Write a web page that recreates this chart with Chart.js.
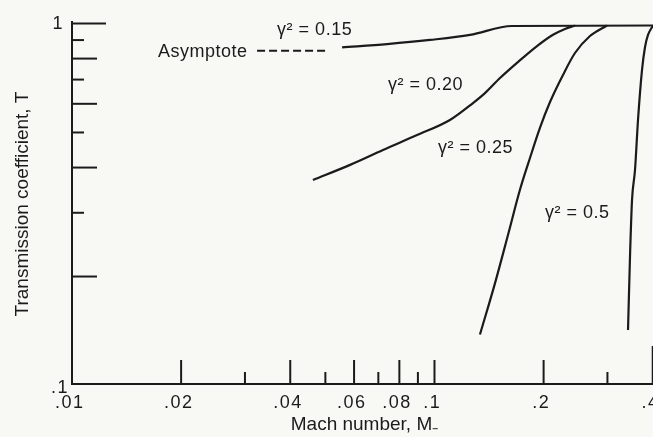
<!DOCTYPE html>
<html>
<head>
<meta charset="utf-8">
<script src="https://cdn.jsdelivr.net/npm/chart.js@4.4.1/dist/chart.umd.min.js"></script>
<style>
    html, body { margin: 0; padding: 0; background: #f8f8f5; }
    #wrap { width: 653px; height: 437px; position: relative; }
</style>
</head>
<body>
<div id="wrap"><canvas id="transChart"></canvas></div>
<script>
// Values: Mach number vs transmission coefficient
const mach15 = [0.0556, 0.0740, 0.0972, 0.1253, 0.1636, 0.4007];
const trans15 = [0.851, 0.869, 0.892, 0.921, 0.975, 0.978];

const mach20 = [0.0462, 0.0585, 0.0721, 0.0895, 0.1103, 0.1277, 0.1378, 0.1516, 0.1699, 0.1918, 0.2123, 0.2291, 0.2441];
const trans20 = [0.366, 0.403, 0.443, 0.487, 0.536, 0.597, 0.636, 0.700, 0.775, 0.858, 0.922, 0.957, 0.978];

const mach25 = [0.1335, 0.1469, 0.1595, 0.1721, 0.1834, 0.1954, 0.2083, 0.2262, 0.2441, 0.2685, 0.2991];
const trans25 = [0.137, 0.190, 0.258, 0.344, 0.421, 0.510, 0.601, 0.714, 0.821, 0.915, 0.978];

const mach50 = [0.3419, 0.3462, 0.3507, 0.3574, 0.3643, 0.3737, 0.3809, 0.3882, 0.4007];
const trans50 = [0.141, 0.224, 0.322, 0.390, 0.536, 0.737, 0.853, 0.921, 0.978];

const machAsymptote = [0.0324, 0.0508];
const transAsymptote = [0.833, 0.833];

// axis ticks and labels
const xMajorTicks = [0.02, 0.04, 0.06, 0.08, 0.1, 0.2, 0.4];
const xMinorTicks = [0.03, 0.05, 0.07, 0.09, 0.3];
const yMajorTicks = [1, 0.8, 0.6, 0.4, 0.2];
const yMinorTicks = [0.9, 0.7, 0.5, 0.3];
const xTickValues = [0.01, 0.02, 0.04, 0.06, 0.08, 0.1, 0.2, 0.4];
const xTickLabels = ['.01', '.02', '.04', '.06', '.08', '.1', '.2', '.4'];
const yTickValues = [1, 0.1];
const yTickLabels = ['1', '.1'];

const ink = '#1b1b1b';
const labelFont = '18px "Liberation Sans", Arial, sans-serif';
const titleFont = '19px "Liberation Sans", Arial, sans-serif';

const toPoints = (xs, ys) => xs.map((v, i) => ({ x: v, y: ys[i] }));

const curve = (label, xs, ys) => ({
    label: label,
    data: toPoints(xs, ys),
    borderColor: ink,
    borderWidth: 2.2,
    pointRadius: 0,
    showLine: true,
    fill: false,
    cubicInterpolationMode: 'monotone'
});

// curve annotations, anchored in data units (left end, baseline)
const notes = [
    { text: 'γ² = 0.15', x: 0.0368, y: 0.921 },
    { text: 'γ² = 0.20', x: 0.0744, y: 0.649 },
    { text: 'γ² = 0.25', x: 0.1022, y: 0.435 },
    { text: 'γ² = 0.5', x: 0.2017, y: 0.287 },
    { text: 'Asymptote', x: 0.01727, y: 0.800 }
];

const figurePlugin = {
    id: 'figure',
    beforeDraw(chart) {
        const ctx = chart.ctx;
        ctx.save();
        ctx.fillStyle = '#f8f8f5';
        ctx.fillRect(0, 0, chart.width, chart.height);
        ctx.restore();
    },
    afterDraw(chart) {
        const { ctx, chartArea, scales: { x, y } } = chart;
        ctx.save();
        ctx.strokeStyle = ink;
        ctx.lineWidth = 2;
        ctx.lineCap = 'butt';

        const line = (x1, y1, x2, y2) => {
            ctx.beginPath();
            ctx.moveTo(x1, y1);
            ctx.lineTo(x2, y2);
            ctx.stroke();
        };

        // tick marks point into the plot
        xMajorTicks.forEach(v => {
            const px = x.getPixelForValue(v);
            line(px, chartArea.bottom, px, chartArea.bottom - (v === 0.4 ? 38 : 24));
        });
        xMinorTicks.forEach(v => {
            const px = x.getPixelForValue(v);
            line(px, chartArea.bottom, px, chartArea.bottom - 12);
        });
        yMajorTicks.forEach(v => {
            const py = y.getPixelForValue(v) + 1.5;
            line(chartArea.left, py, chartArea.left + (v === 1 ? 34 : 25), py);
        });
        yMinorTicks.forEach(v => {
            const py = y.getPixelForValue(v) + 1.5;
            line(chartArea.left, py, chartArea.left + 12, py);
        });

        ctx.fillStyle = ink;
        ctx.font = labelFont;
        ctx.letterSpacing = '1.5px';
        ctx.textBaseline = 'alphabetic';

        // x labels: digits centred on the tick, the point hangs to the left
        ctx.textAlign = 'left';
        xTickLabels.forEach((lab, i) => {
            const px = x.getPixelForValue(xTickValues[i]);
            const wAll = ctx.measureText(lab).width;
            const wDigits = ctx.measureText(lab.slice(1)).width;
            ctx.fillText(lab, px - (wAll - wDigits) - wDigits / 2 + 1, chartArea.bottom + 24);
        });

        // y labels
        ctx.textAlign = 'right';
        yTickLabels.forEach((lab, i) => {
            const py = y.getPixelForValue(yTickValues[i]);
            if (yTickValues[i] === 1) {
                ctx.fillText(lab, chartArea.left - 8, py + 7);
            } else {
                ctx.fillText(lab, chartArea.left - 3, py + 9);
            }
        });

        // curve notes
        ctx.textAlign = 'left';
        ctx.letterSpacing = '0.5px';
        notes.forEach(n => {
            ctx.fillText(n.text, x.getPixelForValue(n.x), y.getPixelForValue(n.y));
        });

        // axis titles
        ctx.font = titleFont;
        ctx.letterSpacing = '0px';
        ctx.textAlign = 'center';
        ctx.fillText('Mach number, M₋', (chartArea.left + chartArea.right) / 2 + 2, chartArea.bottom + 46);

        ctx.translate(28, (chartArea.top + chartArea.bottom) / 2 + 1);
        ctx.rotate(-Math.PI / 2);
        ctx.fillText('Transmission coefficient, T', 0, 0);
        ctx.restore();
    }
};

const ctx = document.getElementById('transChart').getContext('2d');
new Chart(ctx, {
    type: 'scatter',
    data: {
        datasets: [
            curve('γ² = 0.15', mach15, trans15),
            curve('γ² = 0.20', mach20, trans20),
            curve('γ² = 0.25', mach25, trans25),
            curve('γ² = 0.5', mach50, trans50),
            {
                label: 'Asymptote',
                data: toPoints(machAsymptote, transAsymptote),
                borderColor: ink,
                borderWidth: 2,
                borderDash: [8, 4],
                pointRadius: 0,
                showLine: true,
                fill: false
            }
        ]
    },
    options: {
        responsive: true,
        maintainAspectRatio: false,
        animation: false,
        layout: { padding: { left: 72, top: 22, right: 0, bottom: 53 } },
        plugins: {
            legend: { display: false },
            tooltip: { enabled: false }
        },
        scales: {
            x: {
                type: 'logarithmic',
                min: 0.01,
                max: 0.4007,
                grid: { display: false, drawTicks: false },
                ticks: { display: false },
                border: { display: true, color: ink, width: 2 }
            },
            y: {
                type: 'logarithmic',
                min: 0.1,
                max: 1,
                grid: { display: false, drawTicks: false },
                ticks: { display: false },
                border: { display: true, color: ink, width: 2 }
            }
        }
    },
    plugins: [figurePlugin]
});
</script>
</body>
</html>
